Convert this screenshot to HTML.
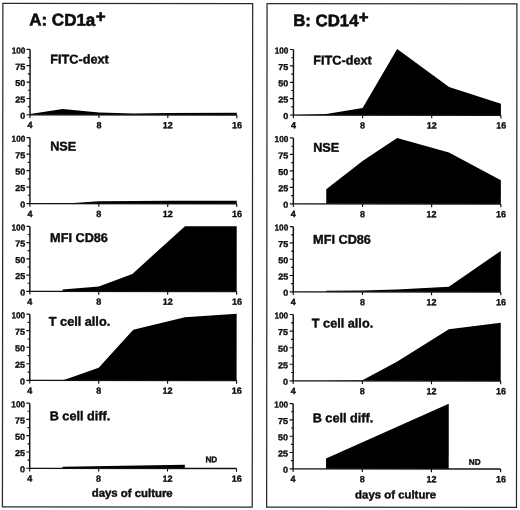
<!DOCTYPE html><html><head><meta charset="utf-8"><title>Figure</title>
<style>html,body{margin:0;padding:0;background:#fff}svg{display:block}text{font-family:"Liberation Sans", sans-serif;font-weight:bold;fill:#0c0c0c;stroke:#0c0c0c;stroke-width:.4px;stroke-linejoin:round}.t{stroke-width:.6px}.k{stroke-width:.35px}</style></head><body>
<svg width="520" height="510" viewBox="0 0 520 510">
<rect width="520" height="510" fill="#fff"/>
<g transform="rotate(0.05 260 255)">
<rect x="2.65" y="3.65" width="249.80" height="503.40" fill="none" stroke="#2a2a2a" stroke-width="1.25"/>
<text class="t" x="29.0" y="25.8" font-size="17.0">A: CD1a<tspan dy="-3.4" dx="0.4">+</tspan></text>
<polygon points="29.9,114.3 62.6,109.1 98.8,112.7 133.3,113.7 167.7,113.0 236.7,112.7 236.7,115.0 29.9,115.0" fill="#000"/>
<path d="M29.9 49.6V115.0H236.7" fill="none" stroke="#111" stroke-width="1.45"/>
<path d="M29.9 115.0h-3.5M29.9 98.7h-3.5M29.9 82.3h-3.5M29.9 65.9h-3.5M29.9 49.6h-3.5M29.9 106.8h-2.2M29.9 90.5h-2.2M29.9 74.1h-2.2M29.9 57.8h-2.2M29.9 115.0v3.2M98.8 115.0v3.2M167.7 115.0v3.2M236.7 115.0v3.2" fill="none" stroke="#111" stroke-width="1.15"/>
<text x="25.2" y="119.0" class="k" font-size="8.6" text-anchor="end" textLength="5.0" lengthAdjust="spacingAndGlyphs">0</text>
<text x="25.2" y="102.7" class="k" font-size="8.6" text-anchor="end" textLength="10.0" lengthAdjust="spacingAndGlyphs">25</text>
<text x="25.2" y="86.3" class="k" font-size="8.6" text-anchor="end" textLength="10.0" lengthAdjust="spacingAndGlyphs">50</text>
<text x="25.2" y="69.9" class="k" font-size="8.6" text-anchor="end" textLength="10.0" lengthAdjust="spacingAndGlyphs">75</text>
<text x="25.2" y="53.6" class="k" font-size="8.6" text-anchor="end" textLength="13.7" lengthAdjust="spacingAndGlyphs">100</text>
<text x="29.9" y="128.3" class="k" font-size="9" text-anchor="middle">4</text>
<text x="98.8" y="128.3" class="k" font-size="9" text-anchor="middle">8</text>
<text x="167.7" y="128.3" class="k" font-size="9" text-anchor="middle">12</text>
<text x="237.0" y="128.3" class="k" font-size="9" text-anchor="middle">16</text>
<text x="50.1" y="63.6" font-size="12.7">FITC-dext</text>
<polygon points="62.6,203.8 98.8,201.4 167.7,200.8 236.7,200.8 236.7,203.8" fill="#000"/>
<path d="M29.9 137.9V203.8H236.7" fill="none" stroke="#111" stroke-width="1.45"/>
<path d="M29.9 203.8h-3.5M29.9 187.3h-3.5M29.9 170.8h-3.5M29.9 154.4h-3.5M29.9 137.9h-3.5M29.9 195.5h-2.2M29.9 179.1h-2.2M29.9 162.6h-2.2M29.9 146.1h-2.2M29.9 203.8v3.2M98.8 203.8v3.2M167.7 203.8v3.2M236.7 203.8v3.2" fill="none" stroke="#111" stroke-width="1.15"/>
<text x="25.2" y="207.8" class="k" font-size="8.6" text-anchor="end" textLength="5.0" lengthAdjust="spacingAndGlyphs">0</text>
<text x="25.2" y="191.3" class="k" font-size="8.6" text-anchor="end" textLength="10.0" lengthAdjust="spacingAndGlyphs">25</text>
<text x="25.2" y="174.8" class="k" font-size="8.6" text-anchor="end" textLength="10.0" lengthAdjust="spacingAndGlyphs">50</text>
<text x="25.2" y="158.4" class="k" font-size="8.6" text-anchor="end" textLength="10.0" lengthAdjust="spacingAndGlyphs">75</text>
<text x="25.2" y="141.9" class="k" font-size="8.6" text-anchor="end" textLength="13.7" lengthAdjust="spacingAndGlyphs">100</text>
<text x="29.9" y="217.1" class="k" font-size="9" text-anchor="middle">4</text>
<text x="98.8" y="217.1" class="k" font-size="9" text-anchor="middle">8</text>
<text x="167.7" y="217.1" class="k" font-size="9" text-anchor="middle">12</text>
<text x="237.0" y="217.1" class="k" font-size="9" text-anchor="middle">16</text>
<text x="50.1" y="150.8" font-size="12.7">NSE</text>
<polygon points="62.6,291.6 62.6,289.6 98.8,286.6 132.4,274.0 185.0,226.2 236.7,226.2 236.7,291.6" fill="#000"/>
<path d="M29.9 226.6V291.6H236.7" fill="none" stroke="#111" stroke-width="1.45"/>
<path d="M29.9 291.6h-3.5M29.9 275.3h-3.5M29.9 259.1h-3.5M29.9 242.8h-3.5M29.9 226.6h-3.5M29.9 283.5h-2.2M29.9 267.2h-2.2M29.9 250.9h-2.2M29.9 234.7h-2.2M29.9 291.6v3.2M98.8 291.6v3.2M167.7 291.6v3.2M236.7 291.6v3.2" fill="none" stroke="#111" stroke-width="1.15"/>
<text x="25.2" y="295.6" class="k" font-size="8.6" text-anchor="end" textLength="5.0" lengthAdjust="spacingAndGlyphs">0</text>
<text x="25.2" y="279.3" class="k" font-size="8.6" text-anchor="end" textLength="10.0" lengthAdjust="spacingAndGlyphs">25</text>
<text x="25.2" y="263.1" class="k" font-size="8.6" text-anchor="end" textLength="10.0" lengthAdjust="spacingAndGlyphs">50</text>
<text x="25.2" y="246.8" class="k" font-size="8.6" text-anchor="end" textLength="10.0" lengthAdjust="spacingAndGlyphs">75</text>
<text x="25.2" y="230.6" class="k" font-size="8.6" text-anchor="end" textLength="13.7" lengthAdjust="spacingAndGlyphs">100</text>
<text x="29.9" y="304.9" class="k" font-size="9" text-anchor="middle">4</text>
<text x="98.8" y="304.9" class="k" font-size="9" text-anchor="middle">8</text>
<text x="167.7" y="304.9" class="k" font-size="9" text-anchor="middle">12</text>
<text x="237.0" y="304.9" class="k" font-size="9" text-anchor="middle">16</text>
<text x="50.1" y="242.2" font-size="12.7">MFI CD86</text>
<polygon points="62.6,380.6 98.8,368.0 133.3,329.9 185.0,317.3 236.7,313.7 236.7,380.6" fill="#000"/>
<path d="M29.9 314.4V380.6H236.7" fill="none" stroke="#111" stroke-width="1.45"/>
<path d="M29.9 380.6h-3.5M29.9 364.0h-3.5M29.9 347.5h-3.5M29.9 330.9h-3.5M29.9 314.4h-3.5M29.9 372.3h-2.2M29.9 355.8h-2.2M29.9 339.2h-2.2M29.9 322.6h-2.2M29.9 380.6v3.2M98.8 380.6v3.2M167.7 380.6v3.2M236.7 380.6v3.2" fill="none" stroke="#111" stroke-width="1.15"/>
<text x="25.2" y="384.6" class="k" font-size="8.6" text-anchor="end" textLength="5.0" lengthAdjust="spacingAndGlyphs">0</text>
<text x="25.2" y="368.0" class="k" font-size="8.6" text-anchor="end" textLength="10.0" lengthAdjust="spacingAndGlyphs">25</text>
<text x="25.2" y="351.5" class="k" font-size="8.6" text-anchor="end" textLength="10.0" lengthAdjust="spacingAndGlyphs">50</text>
<text x="25.2" y="334.9" class="k" font-size="8.6" text-anchor="end" textLength="10.0" lengthAdjust="spacingAndGlyphs">75</text>
<text x="25.2" y="318.4" class="k" font-size="8.6" text-anchor="end" textLength="13.7" lengthAdjust="spacingAndGlyphs">100</text>
<text x="29.9" y="393.9" class="k" font-size="9" text-anchor="middle">4</text>
<text x="98.8" y="393.9" class="k" font-size="9" text-anchor="middle">8</text>
<text x="167.7" y="393.9" class="k" font-size="9" text-anchor="middle">12</text>
<text x="237.0" y="393.9" class="k" font-size="9" text-anchor="middle">16</text>
<text x="48.9" y="325.9" font-size="12.7">T cell allo.</text>
<polygon points="62.6,468.5 62.6,466.9 185.0,464.9 185.0,468.5" fill="#000"/>
<path d="M29.9 403.4V468.5H236.7" fill="none" stroke="#111" stroke-width="1.45"/>
<path d="M29.9 468.5h-3.5M29.9 452.2h-3.5M29.9 435.9h-3.5M29.9 419.6h-3.5M29.9 403.4h-3.5M29.9 460.4h-2.2M29.9 444.1h-2.2M29.9 427.8h-2.2M29.9 411.5h-2.2M29.9 468.5v3.2M98.8 468.5v3.2M167.7 468.5v3.2M236.7 468.5v3.2" fill="none" stroke="#111" stroke-width="1.15"/>
<text x="25.2" y="472.5" class="k" font-size="8.6" text-anchor="end" textLength="5.0" lengthAdjust="spacingAndGlyphs">0</text>
<text x="25.2" y="456.2" class="k" font-size="8.6" text-anchor="end" textLength="10.0" lengthAdjust="spacingAndGlyphs">25</text>
<text x="25.2" y="439.9" class="k" font-size="8.6" text-anchor="end" textLength="10.0" lengthAdjust="spacingAndGlyphs">50</text>
<text x="25.2" y="423.6" class="k" font-size="8.6" text-anchor="end" textLength="10.0" lengthAdjust="spacingAndGlyphs">75</text>
<text x="25.2" y="407.4" class="k" font-size="8.6" text-anchor="end" textLength="13.7" lengthAdjust="spacingAndGlyphs">100</text>
<text x="29.9" y="481.8" class="k" font-size="9" text-anchor="middle">4</text>
<text x="98.8" y="481.8" class="k" font-size="9" text-anchor="middle">8</text>
<text x="167.7" y="481.8" class="k" font-size="9" text-anchor="middle">12</text>
<text x="237.0" y="481.8" class="k" font-size="9" text-anchor="middle">16</text>
<text x="49.8" y="420.5" font-size="12.7">B cell diff.</text>
<text x="205.6" y="462.4" class="k" font-size="8.2">ND</text>
<text x="91.9" y="497.0" font-size="11.4">days of culture</text>
<rect x="266.85" y="3.65" width="249.85" height="503.40" fill="none" stroke="#2a2a2a" stroke-width="1.25"/>
<text class="t" x="293.0" y="26.1" font-size="16.8">B: CD14<tspan dy="-3.4" dx="0.4">+</tspan></text>
<polygon points="293.3,115.0 326.2,114.0 362.5,108.0 397.0,48.9 448.9,86.9 500.8,103.5 500.8,115.0" fill="#000"/>
<path d="M293.3 49.5V115.0H500.8" fill="none" stroke="#111" stroke-width="1.45"/>
<path d="M293.3 115.0h-3.5M293.3 98.6h-3.5M293.3 82.3h-3.5M293.3 65.9h-3.5M293.3 49.5h-3.5M293.3 106.8h-2.2M293.3 90.5h-2.2M293.3 74.1h-2.2M293.3 57.7h-2.2M293.3 115.0v3.2M362.5 115.0v3.2M431.6 115.0v3.2M500.8 115.0v3.2" fill="none" stroke="#111" stroke-width="1.15"/>
<text x="288.2" y="119.0" class="k" font-size="8.6" text-anchor="end" textLength="5.0" lengthAdjust="spacingAndGlyphs">0</text>
<text x="288.2" y="102.6" class="k" font-size="8.6" text-anchor="end" textLength="10.0" lengthAdjust="spacingAndGlyphs">25</text>
<text x="288.2" y="86.3" class="k" font-size="8.6" text-anchor="end" textLength="10.0" lengthAdjust="spacingAndGlyphs">50</text>
<text x="288.2" y="69.9" class="k" font-size="8.6" text-anchor="end" textLength="10.0" lengthAdjust="spacingAndGlyphs">75</text>
<text x="288.2" y="53.5" class="k" font-size="8.6" text-anchor="end" textLength="13.7" lengthAdjust="spacingAndGlyphs">100</text>
<text x="293.3" y="128.3" class="k" font-size="9" text-anchor="middle">4</text>
<text x="362.5" y="128.3" class="k" font-size="9" text-anchor="middle">8</text>
<text x="431.6" y="128.3" class="k" font-size="9" text-anchor="middle">12</text>
<text x="501.1" y="128.3" class="k" font-size="9" text-anchor="middle">16</text>
<text x="313.1" y="64.5" font-size="12.7">FITC-dext</text>
<polygon points="326.2,203.8 326.2,189.3 362.5,161.0 397.0,137.9 448.9,152.4 500.8,180.1 500.8,203.8" fill="#000"/>
<path d="M293.3 137.9V203.8H500.8" fill="none" stroke="#111" stroke-width="1.45"/>
<path d="M293.3 203.8h-3.5M293.3 187.3h-3.5M293.3 170.9h-3.5M293.3 154.4h-3.5M293.3 137.9h-3.5M293.3 195.6h-2.2M293.3 179.1h-2.2M293.3 162.6h-2.2M293.3 146.2h-2.2M293.3 203.8v3.2M362.5 203.8v3.2M431.6 203.8v3.2M500.8 203.8v3.2" fill="none" stroke="#111" stroke-width="1.15"/>
<text x="288.2" y="207.8" class="k" font-size="8.6" text-anchor="end" textLength="5.0" lengthAdjust="spacingAndGlyphs">0</text>
<text x="288.2" y="191.3" class="k" font-size="8.6" text-anchor="end" textLength="10.0" lengthAdjust="spacingAndGlyphs">25</text>
<text x="288.2" y="174.9" class="k" font-size="8.6" text-anchor="end" textLength="10.0" lengthAdjust="spacingAndGlyphs">50</text>
<text x="288.2" y="158.4" class="k" font-size="8.6" text-anchor="end" textLength="10.0" lengthAdjust="spacingAndGlyphs">75</text>
<text x="288.2" y="141.9" class="k" font-size="8.6" text-anchor="end" textLength="13.7" lengthAdjust="spacingAndGlyphs">100</text>
<text x="293.3" y="217.1" class="k" font-size="9" text-anchor="middle">4</text>
<text x="362.5" y="217.1" class="k" font-size="9" text-anchor="middle">8</text>
<text x="431.6" y="217.1" class="k" font-size="9" text-anchor="middle">12</text>
<text x="501.1" y="217.1" class="k" font-size="9" text-anchor="middle">16</text>
<text x="313.1" y="151.8" font-size="12.7">NSE</text>
<polygon points="326.2,291.8 326.2,290.8 362.5,290.4 397.0,289.5 448.9,286.5 500.8,250.7 500.8,291.8" fill="#000"/>
<path d="M293.3 226.6V291.8H500.8" fill="none" stroke="#111" stroke-width="1.45"/>
<path d="M293.3 291.8h-3.5M293.3 275.5h-3.5M293.3 259.2h-3.5M293.3 242.9h-3.5M293.3 226.6h-3.5M293.3 283.6h-2.2M293.3 267.3h-2.2M293.3 251.1h-2.2M293.3 234.8h-2.2M293.3 291.8v3.2M362.5 291.8v3.2M431.6 291.8v3.2M500.8 291.8v3.2" fill="none" stroke="#111" stroke-width="1.15"/>
<text x="288.2" y="295.8" class="k" font-size="8.6" text-anchor="end" textLength="5.0" lengthAdjust="spacingAndGlyphs">0</text>
<text x="288.2" y="279.5" class="k" font-size="8.6" text-anchor="end" textLength="10.0" lengthAdjust="spacingAndGlyphs">25</text>
<text x="288.2" y="263.2" class="k" font-size="8.6" text-anchor="end" textLength="10.0" lengthAdjust="spacingAndGlyphs">50</text>
<text x="288.2" y="246.9" class="k" font-size="8.6" text-anchor="end" textLength="10.0" lengthAdjust="spacingAndGlyphs">75</text>
<text x="288.2" y="230.6" class="k" font-size="8.6" text-anchor="end" textLength="13.7" lengthAdjust="spacingAndGlyphs">100</text>
<text x="293.3" y="305.1" class="k" font-size="9" text-anchor="middle">4</text>
<text x="362.5" y="305.1" class="k" font-size="9" text-anchor="middle">8</text>
<text x="431.6" y="305.1" class="k" font-size="9" text-anchor="middle">12</text>
<text x="501.1" y="305.1" class="k" font-size="9" text-anchor="middle">16</text>
<text x="313.1" y="243.6" font-size="12.7">MFI CD86</text>
<polygon points="326.2,380.8 362.5,380.2 397.0,361.6 448.9,329.1 500.8,322.5 500.8,380.8" fill="#000"/>
<path d="M293.3 314.5V380.8H500.8" fill="none" stroke="#111" stroke-width="1.45"/>
<path d="M293.3 380.8h-3.5M293.3 364.2h-3.5M293.3 347.7h-3.5M293.3 331.1h-3.5M293.3 314.5h-3.5M293.3 372.5h-2.2M293.3 356.0h-2.2M293.3 339.4h-2.2M293.3 322.8h-2.2M293.3 380.8v3.2M362.5 380.8v3.2M431.6 380.8v3.2M500.8 380.8v3.2" fill="none" stroke="#111" stroke-width="1.15"/>
<text x="288.2" y="384.8" class="k" font-size="8.6" text-anchor="end" textLength="5.0" lengthAdjust="spacingAndGlyphs">0</text>
<text x="288.2" y="368.2" class="k" font-size="8.6" text-anchor="end" textLength="10.0" lengthAdjust="spacingAndGlyphs">25</text>
<text x="288.2" y="351.7" class="k" font-size="8.6" text-anchor="end" textLength="10.0" lengthAdjust="spacingAndGlyphs">50</text>
<text x="288.2" y="335.1" class="k" font-size="8.6" text-anchor="end" textLength="10.0" lengthAdjust="spacingAndGlyphs">75</text>
<text x="288.2" y="318.5" class="k" font-size="8.6" text-anchor="end" textLength="13.7" lengthAdjust="spacingAndGlyphs">100</text>
<text x="293.3" y="394.1" class="k" font-size="9" text-anchor="middle">4</text>
<text x="362.5" y="394.1" class="k" font-size="9" text-anchor="middle">8</text>
<text x="431.6" y="394.1" class="k" font-size="9" text-anchor="middle">12</text>
<text x="501.1" y="394.1" class="k" font-size="9" text-anchor="middle">16</text>
<text x="311.9" y="327.5" font-size="12.7">T cell allo.</text>
<polygon points="326.2,468.8 326.2,458.4 448.9,403.6 448.9,468.8" fill="#000"/>
<path d="M293.3 403.6V468.8H500.8" fill="none" stroke="#111" stroke-width="1.45"/>
<path d="M293.3 468.8h-3.5M293.3 452.5h-3.5M293.3 436.2h-3.5M293.3 419.9h-3.5M293.3 403.6h-3.5M293.3 460.6h-2.2M293.3 444.3h-2.2M293.3 428.0h-2.2M293.3 411.7h-2.2M293.3 468.8v3.2M362.5 468.8v3.2M431.6 468.8v3.2M500.8 468.8v3.2" fill="none" stroke="#111" stroke-width="1.15"/>
<text x="288.2" y="472.8" class="k" font-size="8.6" text-anchor="end" textLength="5.0" lengthAdjust="spacingAndGlyphs">0</text>
<text x="288.2" y="456.5" class="k" font-size="8.6" text-anchor="end" textLength="10.0" lengthAdjust="spacingAndGlyphs">25</text>
<text x="288.2" y="440.2" class="k" font-size="8.6" text-anchor="end" textLength="10.0" lengthAdjust="spacingAndGlyphs">50</text>
<text x="288.2" y="423.9" class="k" font-size="8.6" text-anchor="end" textLength="10.0" lengthAdjust="spacingAndGlyphs">75</text>
<text x="288.2" y="407.6" class="k" font-size="8.6" text-anchor="end" textLength="13.7" lengthAdjust="spacingAndGlyphs">100</text>
<text x="293.3" y="482.1" class="k" font-size="9" text-anchor="middle">4</text>
<text x="362.5" y="482.1" class="k" font-size="9" text-anchor="middle">8</text>
<text x="431.6" y="482.1" class="k" font-size="9" text-anchor="middle">12</text>
<text x="501.1" y="482.1" class="k" font-size="9" text-anchor="middle">16</text>
<text x="312.8" y="422.2" font-size="12.7">B cell diff.</text>
<text x="469.0" y="464.6" class="k" font-size="8.2">ND</text>
<text x="355.3" y="498.3" font-size="11.4">days of culture</text>
</g>
</svg></body></html>
